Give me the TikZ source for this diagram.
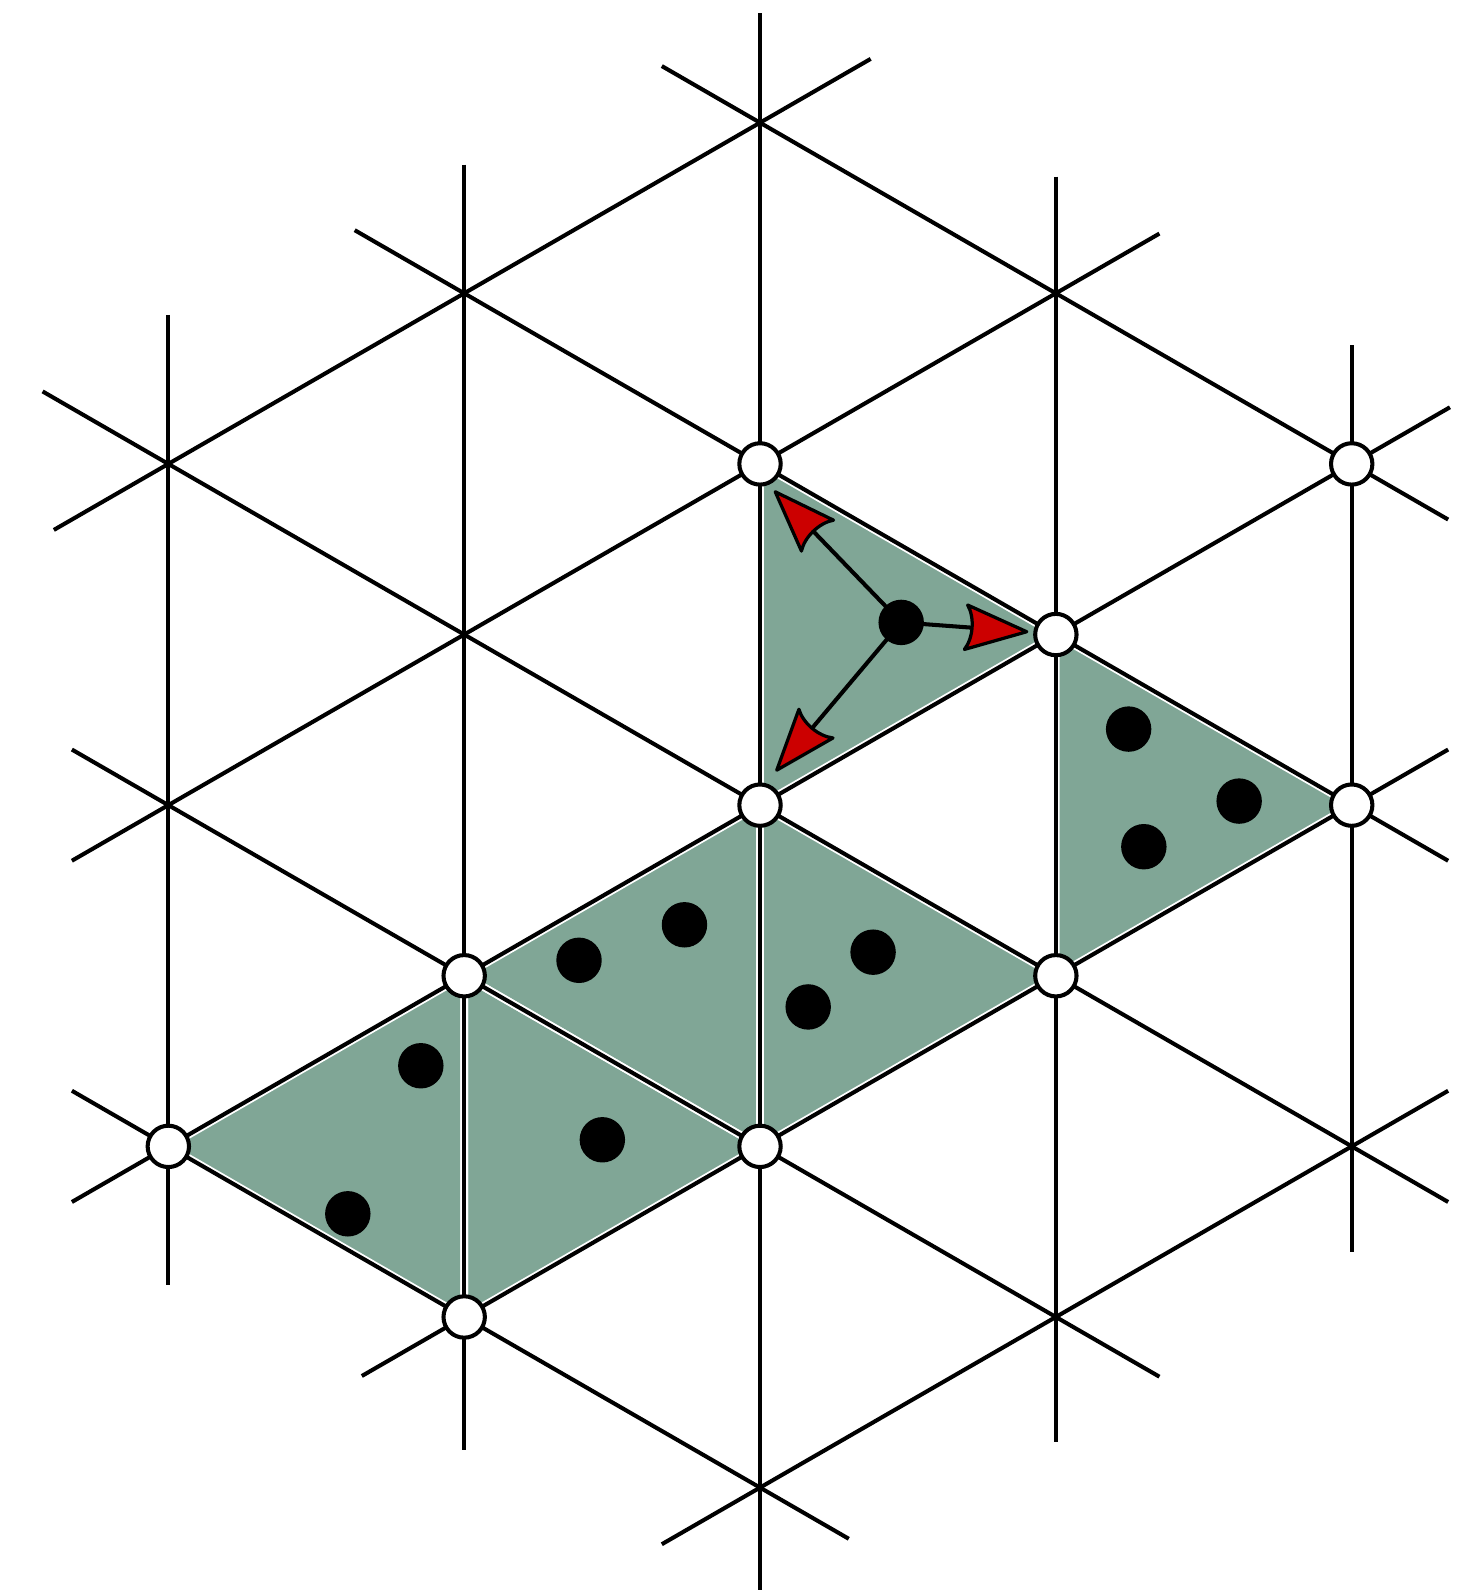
\documentclass[tikz,border=0pt]{standalone}
\usetikzlibrary{calc}
\definecolor{tgreen}{RGB}{128,166,150}
\definecolor{ared}{RGB}{204,0,0}
\begin{document}
\begin{tikzpicture}[x=0.5pt,y=-0.5pt,
  lat/.style={line width=2pt},
  shadeborder/.style={draw=white, line width=3.8pt, line join=round},
  shadefill/.style={fill=tgreen},
  site/.style={circle, draw=black, fill=white, line width=2pt, minimum size=20.4pt, inner sep=0pt},
  ion/.style={circle, fill=black, minimum size=22.4pt, inner sep=0pt},
  shaft/.style={line width=2pt},
  head/.style={fill=ared, draw=black, line width=1.6pt, line join=round}]
\useasboundingbox (0,0) rectangle (1446,1568);
\def\dx{291.75}
\def\dy{168.25}
\foreach \c in {0,...,4} {
  \foreach \r in {0,...,8} {
    \coordinate (v\c\r) at ({166+291.75*\c},{121+168.25*\r});
  }
}
% shaded triangles
\foreach \a/\b/\cc in {v22/v33/v24, v33/v44/v35, v24/v35/v26, v15/v24/v26, v15/v26/v17, v06/v15/v17} {
  \fill[shadefill] (\a) -- (\b) -- (\cc) -- cycle;
}
\foreach \a/\b/\cc in {v22/v33/v24, v33/v44/v35, v24/v35/v26, v15/v24/v26, v15/v26/v17, v06/v15/v17} {
  \draw[shadeborder] (\a) -- (\b) -- (\cc) -- cycle;
}
% lattice lines: down-right
\draw[lat] ($(v20)+({-0.332*\dx},{-0.332*\dy})$) -- ($(v42)+({0.326*\dx},{0.326*\dy})$);
\draw[lat] ($(v11)+({-0.37*\dx},{-0.37*\dy})$) -- ($(v44)+({0.326*\dx},{0.326*\dy})$);
\draw[lat] ($(v02)+({-0.425*\dx},{-0.425*\dy})$) -- ($(v46)+({0.326*\dx},{0.326*\dy})$);
\draw[lat] ($(v04)+({-0.326*\dx},{-0.326*\dy})$) -- ($(v37)+({0.35*\dx},{0.35*\dy})$);
\draw[lat] ($(v06)+({-0.326*\dx},{-0.326*\dy})$) -- ($(v28)+({0.30*\dx},{0.30*\dy})$);
% up-right
\draw[lat] ($(v02)+({-0.387*\dx},{0.387*\dy})$) -- ($(v20)+({0.374*\dx},{-0.374*\dy})$);
\draw[lat] ($(v04)+({-0.326*\dx},{0.326*\dy})$) -- ($(v31)+({0.35*\dx},{-0.35*\dy})$);
\draw[lat] ($(v06)+({-0.326*\dx},{0.326*\dy})$) -- ($(v42)+({0.332*\dx},{-0.332*\dy})$);
\draw[lat] ($(v17)+({-0.346*\dx},{0.346*\dy})$) -- ($(v44)+({0.326*\dx},{-0.326*\dy})$);
\draw[lat] ($(v28)+({-0.332*\dx},{0.332*\dy})$) -- ($(v46)+({0.326*\dx},{-0.326*\dy})$);
% verticals
\draw[lat] ($(v20)+(0,-108)$) -- ($(v28)+(0,101)$);
\draw[lat] ($(v11)+(0,-127)$) -- ($(v17)+(0,131)$);
\draw[lat] ($(v31)+(0,-115)$) -- ($(v37)+(0,123)$);
\draw[lat] ($(v02)+(0,-147)$) -- ($(v06)+(0,137)$);
\draw[lat] ($(v42)+(0,-117)$) -- ($(v46)+(0,104)$);
% arrows from the central ion
\coordinate (c0) at (888.7,613.8);
\coordinate (tUL) at (764.5,485);
\coordinate (tR) at (1012.5,623);
\coordinate (tDL) at (766,759.5);
\foreach \t in {tUL,tR,tDL} {
  \draw[shaft] (c0) -- ($(\t)!27pt!(c0)$);
}
\foreach \t in {tUL,tR,tDL} {
  \filldraw[head] (\t) -- ($(\t)!31.95pt!20.1:(c0)$)
    .. controls ($(\t)!26.5pt!10.9:(c0)$) and ($(\t)!26.5pt!-10.9:(c0)$) ..
    ($(\t)!31.95pt!-20.1:(c0)$) -- cycle;
}
\node[ion] (d0) at (c0) {};
% sites
\foreach \v in {v22,v42,v33,v24,v44,v15,v35,v06,v26,v17} {
  \node[site] (s\v) at (\v) {};
}
% ions
\node[ion] (d1) at (1113,719) {};
\node[ion] (d2) at (1222,790) {};
\node[ion] (d3) at (1128,835) {};
\node[ion] (d4) at (861,939) {};
\node[ion] (d5) at (797,993) {};
\node[ion] (d6) at (571,947) {};
\node[ion] (d7) at (675,912) {};
\node[ion] (d8) at (594,1124) {};
\node[ion] (d9) at (415,1051) {};
\node[ion] (d10) at (343,1197) {};
\end{tikzpicture}
\end{document}
